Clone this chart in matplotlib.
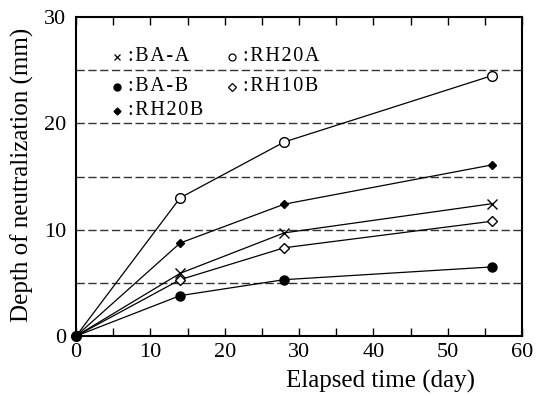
import matplotlib
matplotlib.use("Agg")
import matplotlib.pyplot as plt
from matplotlib.ticker import MultipleLocator

plt.rcParams['font.family'] = ['Liberation Serif', 'DejaVu Serif']

days = [0, 14, 28, 56]
ba_a = [0, 5.9, 9.7, 12.45]
rh20a = [0, 13.0, 18.25, 24.5]
ba_b = [0, 3.8, 5.3, 6.5]
rh10b = [0, 5.3, 8.3, 10.8]
rh20b = [0, 8.75, 12.4, 16.1]
names = ['BA-A', 'RH20A', 'BA-B', 'RH10B', 'RH20B']

fig = plt.figure(figsize=(5.4, 3.96), dpi=100)
ax = fig.add_axes([0.141, 0.1515, 0.826, 0.8055])

for y in [5, 10, 15, 20, 25]:
    ax.axhline(y, color='#333333', lw=1.0, dashes=(6, 2.5), zorder=1)

kw = dict(color='black', lw=0.9, zorder=3)
styles = {
    'BA-A': dict(marker='x', ms=7, mew=1.0, mfc='black', mec='black'),
    'RH20A': dict(marker='o', ms=7, mfc='white', mec='black', mew=1.0),
    'BA-B': dict(marker='o', ms=6.5, mfc='black', mec='black'),
    'RH10B': dict(marker='D', ms=5.5, mfc='white', mec='black', mew=1.0),
    'RH20B': dict(marker='D', ms=4.5, mfc='black', mec='black'),
}
series = {'BA-A': ba_a, 'RH20A': rh20a, 'BA-B': ba_b, 'RH10B': rh10b, 'RH20B': rh20b}
for n in names:
    ax.plot(days, series[n], **styles[n], **kw)
ax.plot([0], [0], marker='o', ms=7, color='black', zorder=5, clip_on=False)

# manual legend (row-major)
leg_styles = {
    'BA-A': dict(marker='x', ms=5, mew=0.9, color='black'),
    'RH20A': dict(marker='o', ms=5, mfc='white', mec='black', mew=0.9),
    'BA-B': dict(marker='o', ms=5, mfc='black', mec='black'),
    'RH10B': dict(marker='D', ms=4, mfc='white', mec='black', mew=0.9),
    'RH20B': dict(marker='D', ms=3.5, mfc='black', mec='black'),
}
pos = {'BA-A': (0.092, 0.875), 'RH20A': (0.35, 0.875),
       'BA-B': (0.092, 0.781), 'RH10B': (0.35, 0.781),
       'RH20B': (0.092, 0.706)}
sp = '\u200a'
for n in names:
    x0, y0 = pos[n]
    ax.plot([x0], [y0], transform=ax.transAxes, linestyle='none', zorder=6, **leg_styles[n])
    ax.text(x0 + 0.024, y0, sp.join(':' + n), transform=ax.transAxes, fontsize=14.5,
            va='center', ha='left', zorder=6)

ax.set_xlim(0, 60)
ax.set_ylim(0, 30)
ax.xaxis.set_major_locator(MultipleLocator(10))
ax.xaxis.set_minor_locator(MultipleLocator(5))
ax.yaxis.set_major_locator(MultipleLocator(10))
ax.tick_params(axis='x', which='both', direction='in', top=True, length=6, width=1.0, labelsize=16, pad=5)
ax.tick_params(axis='y', which='both', length=0, labelsize=16, pad=7)
for s in ax.spines.values():
    s.set_linewidth(1.5)

ax.set_xlabel('Elapsed time (day)', fontsize=18, va='center')
ax.set_ylabel('Depth of neutralization (mm)', fontsize=18, va='center')
ax.xaxis.set_label_coords(0.682, -0.141)
ax.yaxis.set_label_coords(-0.12, 0.505)

fig.savefig('out.png', dpi=100)
